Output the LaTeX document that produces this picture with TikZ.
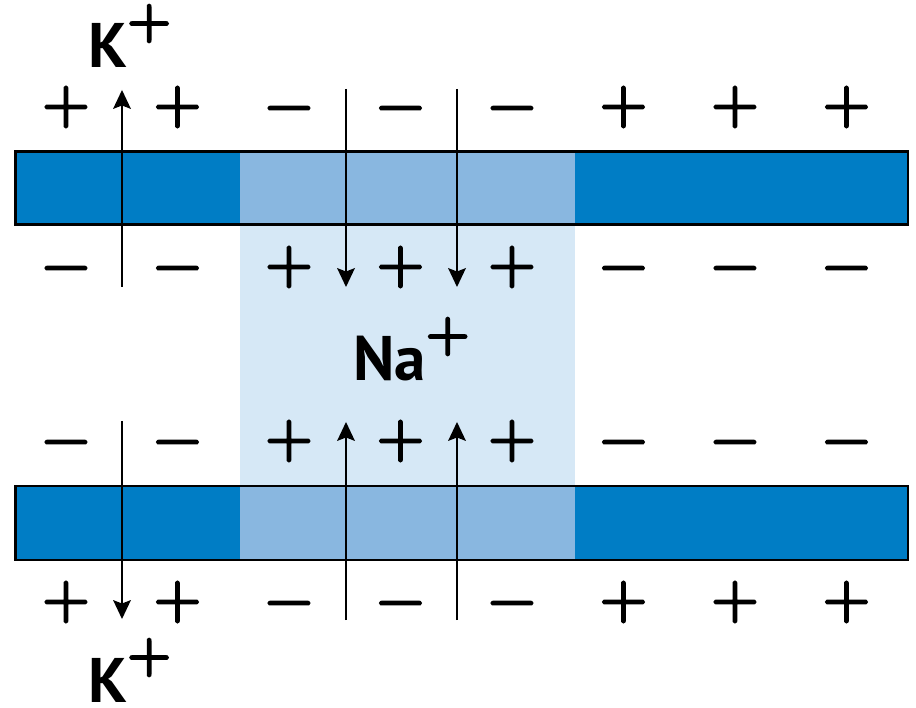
\documentclass[tikz,border=0pt]{standalone}
\usepackage{fontspec}
\setmainfont{Latin Modern Roman}
\newfontfamily\signfont{Latin Modern Roman}[FakeBold=4]
\newfontfamily\ionfont{PT Sans}
\definecolor{memdark}{RGB}{0,125,197}
\definecolor{memlight}{RGB}{137,183,224}
\definecolor{channel}{RGB}{214,232,246}
\newcommand{\supplus}{\raisebox{32pt}{\signfont\fontsize{50}{50}\selectfont +}}
\begin{document}
\begin{tikzpicture}[x=1pt,y=-1pt,
  sign/.style={inner sep=0pt,font=\signfont\fontsize{64}{64}\selectfont},
  minussign/.style={sign,yshift=-8.5pt},
  ion/.style={inner sep=0pt,anchor=base west,font=\ionfont\bfseries\fontsize{63}{63}\selectfont},
  flux/.style={line width=2.2pt,shorten >=12pt},
  uphead/.style={insert path={-- ++(-9,19) -- ++(9,-3.5) -- ++(9,3.5) -- cycle}},
  downhead/.style={insert path={-- ++(-9,-19) -- ++(9,3.5) -- ++(9,-3.5) -- cycle}},
  wall/.style={draw=black,line width=2.5pt}]
\useasboundingbox (0,0) rectangle (916,708);
% channel region
\fill[channel] (240,224.5) rectangle (575,486);
% top membrane
\fill[memdark] (15.5,151.5) rectangle (908,224.5);
\fill[memlight] (240,151.5) rectangle (575,224.5);
\draw[wall] (15.5,151.5) rectangle (908,224.5);
% bottom membrane
\fill[memdark] (15.5,486) rectangle (908,560);
\fill[memlight] (240,486) rectangle (575,560);
\draw[wall] (15.5,486) rectangle (908,560);
% charges
\foreach \i in {1,2,6,7,8}{
  \node[sign] (ra\i) at ({66+111.5*(\i-1)},107) {+};
  \node[sign] (rd\i) at ({66+111.5*(\i-1)},602) {+};
  \node[minussign] (rb\i) at ({66+111.5*(\i-1)},267) {−};
  \node[minussign] (rc\i) at ({66+111.5*(\i-1)},441) {−};
}
\foreach \i in {3,4,5}{
  \node[minussign] (ra\i) at ({66+111.5*(\i-1)},107) {−};
  \node[minussign] (rd\i) at ({66+111.5*(\i-1)},602) {−};
  \node[sign] (rb\i) at ({66+111.5*(\i-1)},267) {+};
  \node[sign] (rc\i) at ({66+111.5*(\i-1)},441) {+};
}
% ions
\node[ion] (ktop) at (88,68) {K\supplus};
\node[ion] (kbot) at (88,702) {K\supplus};
\node[ion] (na) at (353,381) {Na\supplus};
% arrows
\coordinate (kTopFoot) at (122,287);
\coordinate (kTopTip) at (122,90);
\coordinate (kBotFoot) at (122,421);
\coordinate (kBotTip) at (122,619);
\coordinate (naAFoot) at (346,89);
\coordinate (naATip) at (346,287);
\coordinate (naBFoot) at (457,89);
\coordinate (naBTip) at (457,287);
\coordinate (naCFoot) at (346,620);
\coordinate (naCTip) at (346,422);
\coordinate (naDFoot) at (457,620);
\coordinate (naDTip) at (457,422);
\draw[flux] (kTopFoot) -- (kTopTip);
\draw[flux] (kBotFoot) -- (kBotTip);
\draw[flux] (naAFoot) -- (naATip);
\draw[flux] (naBFoot) -- (naBTip);
\draw[flux] (naCFoot) -- (naCTip);
\draw[flux] (naDFoot) -- (naDTip);
\fill (kTopTip) [uphead];
\fill (kBotTip) [downhead];
\fill (naATip) [downhead];
\fill (naBTip) [downhead];
\fill (naCTip) [uphead];
\fill (naDTip) [uphead];
\end{tikzpicture}
\end{document}
